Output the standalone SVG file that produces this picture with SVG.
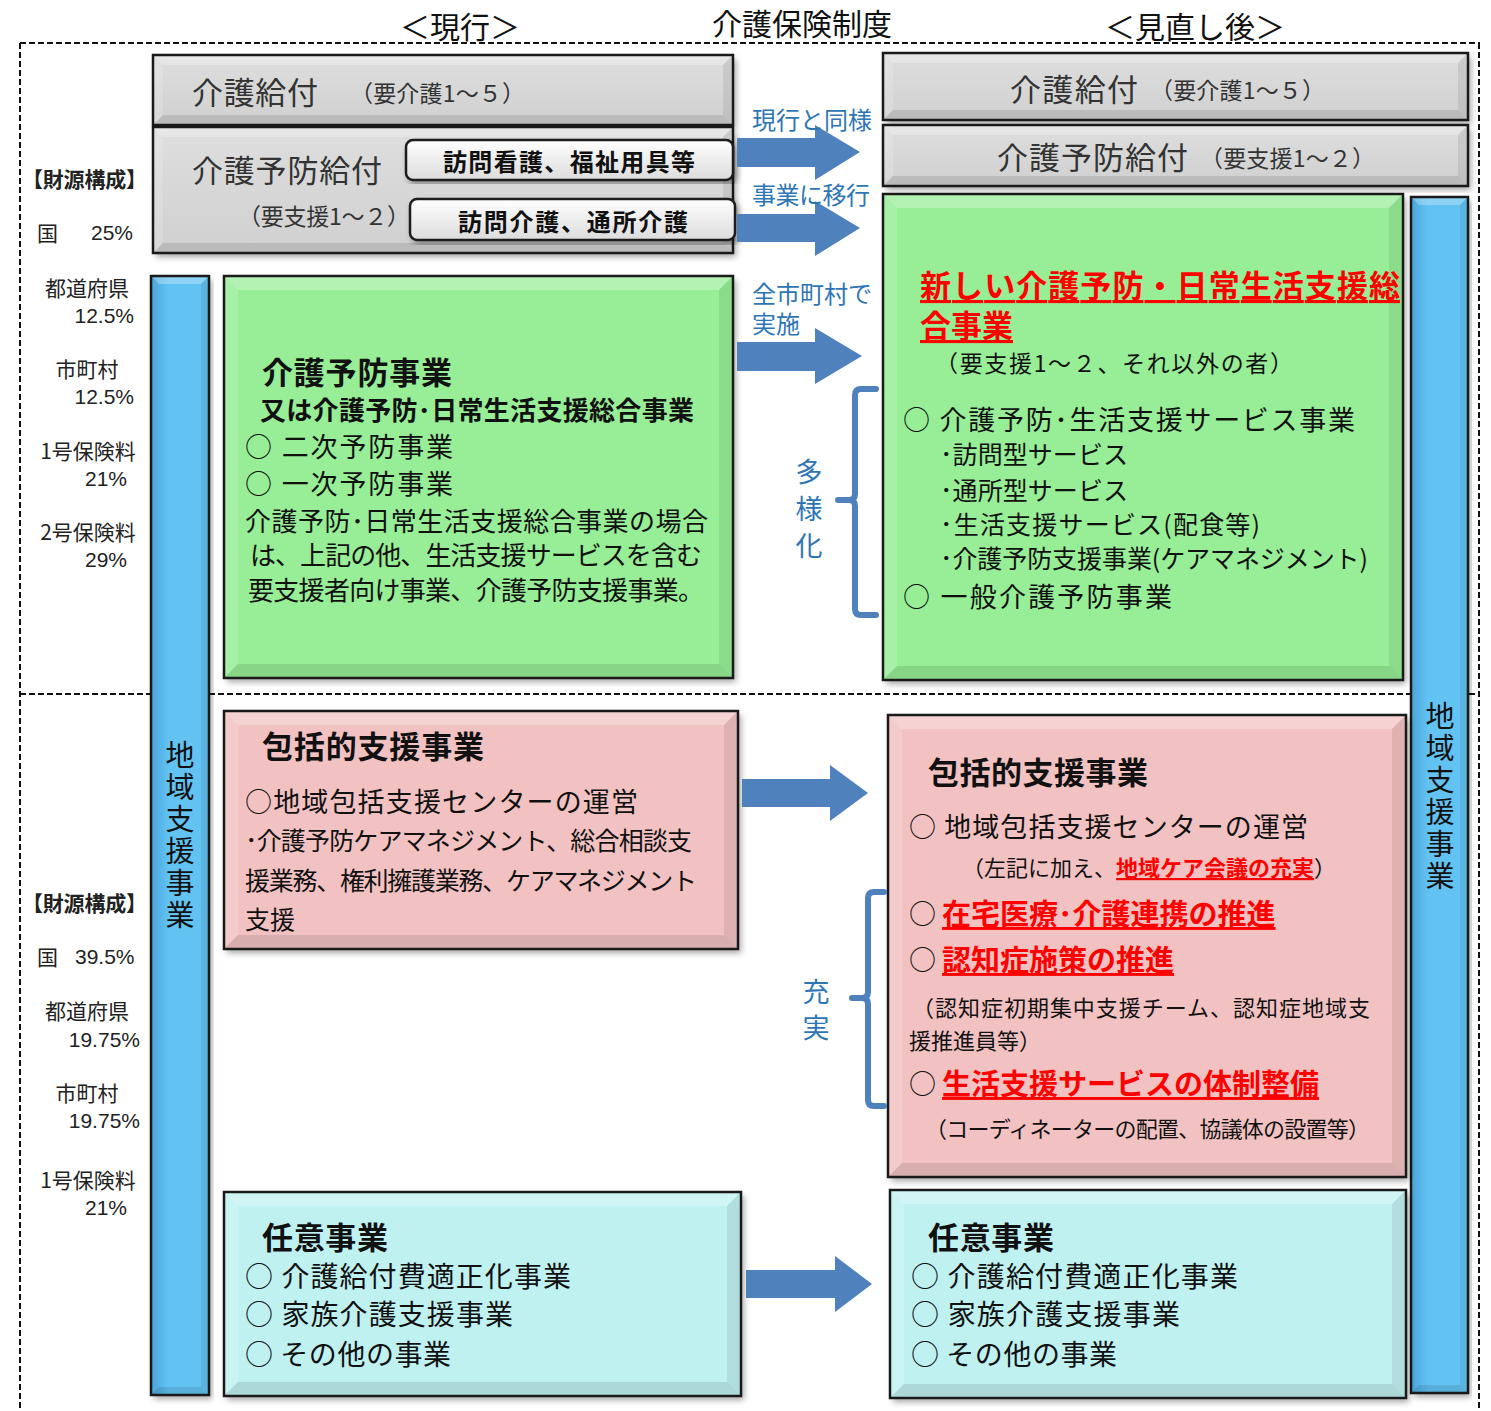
<svg xmlns="http://www.w3.org/2000/svg" width="1491" height="1411" viewBox="0 0 1491 1411">
<defs>
<filter id="sh" x="-5%" y="-5%" width="112%" height="115%"><feDropShadow dx="3" dy="4" stdDeviation="3" flood-color="#000" flood-opacity="0.35"/></filter>
<linearGradient id="gGray" x1="0" y1="0" x2="0" y2="1"><stop offset="0" stop-color="#dedede"/><stop offset="1" stop-color="#d0d0d0"/></linearGradient>
<linearGradient id="gSub" x1="0" y1="0" x2="0" y2="1"><stop offset="0" stop-color="#ffffff"/><stop offset="1" stop-color="#dcdcdc"/></linearGradient>
<linearGradient id="gBar" x1="0" y1="0" x2="1" y2="0"><stop offset="0" stop-color="#4aa3da"/><stop offset="0.3" stop-color="#62c3f3"/><stop offset="1" stop-color="#62c3f3"/></linearGradient>
</defs>
<style>
text{font-family:"Noto Sans CJK JP","Noto Sans CJK SC",sans-serif;fill:#111;dominant-baseline:central}
.dash{stroke:#111;stroke-width:2;stroke-dasharray:6 3;fill:none}
.out{fill:none;stroke:#1a1a1a;stroke-width:2.5}
.gray{fill:url(#gGray)}
.green{fill:#97ee97}
.pink{fill:#f2c2c2}
.cyan{fill:#c0f1f1}
.bar{fill:url(#gBar)}
.bt{fill:#fff;fill-opacity:0.28}
.bl{fill:#fff;fill-opacity:0.16}
.bb{fill:#000;fill-opacity:0.10}
.br{fill:#000;fill-opacity:0.08}
.gt{font-size:31px;fill:#333}
.gs{font-size:23px;fill:#333}
.h{font-size:31px;font-weight:700}
.b27{font-size:27px}
.b25{font-size:25px}
.b22{font-size:22px}
.red{fill:#ff0000;font-weight:700;text-decoration:underline}
.lbl{font-size:21px;fill:#222}
.num{font-family:"Liberation Sans",Arial,sans-serif;font-size:21px;fill:#222}
.blue{font-size:24px;fill:#2e75b6}
.vt{font-size:29px;fill:#111;writing-mode:vertical-rl;letter-spacing:3px}
.vb{font-size:27px;fill:#2e75b6;writing-mode:vertical-rl}
.arrow{fill:#4f81bd}
.brace{fill:none;stroke:#4f81bd;stroke-width:6;stroke-linecap:round;stroke-linejoin:round}
</style>

<g id="frame">
<path class="dash" d="M20,43 H1480 M20,43 V1411 M1479,43 V1411 M20,694 H1480"/>
</g>

<g id="titles">
<text x="802" y="22" font-size="30" text-anchor="middle">介護保険制度</text>
<text x="460" y="25" font-size="30" text-anchor="middle">＜現行＞</text>
<text x="1195" y="25" font-size="30" text-anchor="middle">＜見直し後＞</text>
</g>

<g id="funding">
<text class="lbl" x="22" y="178" font-weight="700" textLength="125">【財源構成】</text>
<text class="lbl" x="37" y="232">国</text>
<text class="num" x="91" y="232">25%</text>
<text class="lbl" x="87" y="287" text-anchor="middle">都道府県</text>
<text class="num" x="134" y="315" text-anchor="end">12.5%</text>
<text class="lbl" x="87" y="368" text-anchor="middle">市町村</text>
<text class="num" x="134" y="396" text-anchor="end">12.5%</text>
<text class="lbl" x="88" y="450" text-anchor="middle">1号保険料</text>
<text class="num" x="127" y="478" text-anchor="end">21%</text>
<text class="lbl" x="88" y="531" text-anchor="middle">2号保険料</text>
<text class="num" x="127" y="559" text-anchor="end">29%</text>
<text class="lbl" x="22" y="902" font-weight="700" textLength="125">【財源構成】</text>
<text class="lbl" x="37" y="956">国</text>
<text class="num" x="75" y="956">39.5%</text>
<text class="lbl" x="87" y="1010" text-anchor="middle">都道府県</text>
<text class="num" x="140" y="1039" text-anchor="end">19.75%</text>
<text class="lbl" x="87" y="1092" text-anchor="middle">市町村</text>
<text class="num" x="140" y="1120" text-anchor="end">19.75%</text>
<text class="lbl" x="88" y="1179" text-anchor="middle">1号保険料</text>
<text class="num" x="127" y="1207" text-anchor="end">21%</text>
</g>

<g id="bar-left">
<rect class="bar" x="151" y="276" width="58" height="1119" filter="url(#sh)"/>
<polygon class="bt" points="151,276 209,276 201,284 159,284"/>
<polygon class="br" points="209,276 209,1395 201,1387 201,284"/>
<polygon class="bb" points="151,1395 159,1387 201,1387 209,1395"/>
<rect class="out" x="151" y="276" width="58" height="1119"/>
<text class="vt" x="180" y="740">地域支援事業</text>
</g>

<g id="bar-right">
<rect class="bar" x="1411" y="197" width="57" height="1196" filter="url(#sh)"/>
<polygon class="bt" points="1411,197 1468,197 1460,205 1419,205"/>
<polygon class="br" points="1468,197 1468,1393 1460,1385 1460,205"/>
<polygon class="bb" points="1411,1393 1419,1385 1460,1385 1468,1393"/>
<rect class="out" x="1411" y="197" width="57" height="1196"/>
<text class="vt" x="1440" y="701">地域支援事業</text>
</g>

<g id="kaigo-kyufu-current">
<rect class="gray" x="153" y="55" width="580" height="70" filter="url(#sh)"/>
<polygon class="bt" points="153,55 733,55 723,65 163,65"/>
<polygon class="bl" points="153,55 163,65 163,115 153,125"/>
<polygon class="bb" points="153,125 163,115 723,115 733,125"/>
<polygon class="br" points="733,55 733,125 723,115 723,65"/>
<rect class="out" x="153" y="55" width="580" height="70"/>
<text class="gt" x="192" y="90" textLength="126">介護給付</text>
<text class="gs" x="350" y="92" textLength="175">（要介護1～５）</text>
</g>

<g id="yobo-kyufu-current">
<rect class="gray" x="153" y="127" width="580" height="126" filter="url(#sh)"/>
<polygon class="bt" points="153,127 733,127 723,137 163,137"/>
<polygon class="bl" points="153,127 163,137 163,243 153,253"/>
<polygon class="bb" points="153,253 163,243 723,243 733,253"/>
<polygon class="br" points="733,127 733,253 723,243 723,137"/>
<rect class="out" x="153" y="127" width="580" height="126"/>
<text class="gt" x="192" y="168" textLength="190">介護予防給付</text>
<text class="gs" x="238" y="215" textLength="172">（要支援1～２）</text>
</g>

<g id="houmon-kango">
<rect x="406" y="140" width="327" height="40" rx="7" fill="url(#gSub)" stroke="#1a1a1a" stroke-width="2.5" filter="url(#sh)"/>
<text x="569" y="160" font-size="24" font-weight="700" text-anchor="middle" textLength="252">訪問看護、福祉用具等</text>
</g>

<g id="houmon-kaigo">
<rect x="410" y="199" width="325" height="41" rx="7" fill="url(#gSub)" stroke="#1a1a1a" stroke-width="2.5" filter="url(#sh)"/>
<text x="573" y="220" font-size="24" font-weight="700" text-anchor="middle" textLength="230">訪問介護、通所介護</text>
</g>

<g id="kaigo-kyufu-new">
<rect class="gray" x="883" y="53" width="585" height="67" filter="url(#sh)"/>
<polygon class="bt" points="883,53 1468,53 1458,63 893,63"/>
<polygon class="bl" points="883,53 893,63 893,110 883,120"/>
<polygon class="bb" points="883,120 893,110 1458,110 1468,120"/>
<polygon class="br" points="1468,53 1468,120 1458,110 1458,63"/>
<rect class="out" x="883" y="53" width="585" height="67"/>
<text class="gt" x="1010" y="87" textLength="128">介護給付</text>
<text class="gs" x="1150" y="89" textLength="175">（要介護1～５）</text>
</g>

<g id="yobo-kyufu-new">
<rect class="gray" x="883" y="125" width="585" height="61" filter="url(#sh)"/>
<polygon class="bt" points="883,125 1468,125 1458,135 893,135"/>
<polygon class="bl" points="883,125 893,135 893,176 883,186"/>
<polygon class="bb" points="883,186 893,176 1458,176 1468,186"/>
<polygon class="br" points="1468,125 1468,186 1458,176 1458,135"/>
<rect class="out" x="883" y="125" width="585" height="61"/>
<text class="gt" x="997" y="155" textLength="191">介護予防給付</text>
<text class="gs" x="1200" y="157" textLength="175">（要支援1～２）</text>
</g>

<g id="yobo-jigyo-current">
<rect class="green" x="224" y="276" width="509" height="402" filter="url(#sh)"/>
<polygon class="bt" points="224,276 733,276 719,290 238,290"/>
<polygon class="bl" points="224,276 238,290 238,664 224,678"/>
<polygon class="bb" points="224,678 238,664 719,664 733,678"/>
<polygon class="br" points="733,276 733,678 719,664 719,290"/>
<rect class="out" x="224" y="276" width="509" height="402"/>
<text class="h" x="262" y="370" textLength="190">介護予防事業</text>
<text x="260" y="408" font-size="26" font-weight="700" textLength="434">又は介護予防･日常生活支援総合事業</text>
<text class="b27" x="245" y="445" textLength="208">○ 二次予防事業</text>
<text class="b27" x="245" y="482" textLength="208">○ 一次予防事業</text>
<text x="245" y="519" font-size="26" textLength="463">介護予防･日常生活支援総合事業の場合</text>
<text x="250" y="553" font-size="26" textLength="452">は、上記の他、生活支援サービスを含む</text>
<text x="248" y="588" font-size="26" textLength="456">要支援者向け事業、介護予防支援事業。</text>
</g>

<g id="sogo-jigyo-new">
<rect class="green" x="883" y="194" width="520" height="486" filter="url(#sh)"/>
<polygon class="bt" points="883,194 1403,194 1389,208 897,208"/>
<polygon class="bl" points="883,194 897,208 897,666 883,680"/>
<polygon class="bb" points="883,680 897,666 1389,666 1403,680"/>
<polygon class="br" points="1403,194 1403,680 1389,666 1389,208"/>
<rect class="out" x="883" y="194" width="520" height="486"/>
<text class="red" font-size="31"><tspan x="920" y="283" textLength="480">新しい介護予防・日常生活支援総</tspan><tspan x="920" y="323">合事業</tspan></text>
<text x="935" y="362" font-size="23" fill="#333" textLength="358">（要支援1～２、それ以外の者）</text>
<text class="b27" x="903" y="418" textLength="452">○ 介護予防･生活支援サービス事業</text>
<text class="b25" x="940" y="453" textLength="188">･訪問型サービス</text>
<text class="b25" x="940" y="489" textLength="188">･通所型サービス</text>
<text class="b25" x="940" y="523" textLength="320">･生活支援サービス(配食等)</text>
<text class="b25" x="940" y="557" textLength="428">･介護予防支援事業(ケアマネジメント)</text>
<text class="b27" x="903" y="595" textLength="269">○ 一般介護予防事業</text>
</g>

<g id="hokatsu-current">
<rect class="pink" x="224" y="711" width="514" height="238" filter="url(#sh)"/>
<polygon class="bt" points="224,711 738,711 724,725 238,725"/>
<polygon class="bl" points="224,711 238,725 238,935 224,949"/>
<polygon class="bb" points="224,949 238,935 724,935 738,949"/>
<polygon class="br" points="738,711 738,949 724,935 724,725"/>
<rect class="out" x="224" y="711" width="514" height="238"/>
<text class="h" x="262" y="744" textLength="222">包括的支援事業</text>
<text class="b27" x="245" y="800" textLength="393">○地域包括支援センターの運営</text>
<text class="b25" x="245" y="839" textLength="447">･介護予防ケアマネジメント、総合相談支</text>
<text class="b25" x="245" y="879" textLength="452">援業務、権利擁護業務、ケアマネジメント</text>
<text class="b25" x="245" y="918" textLength="50">支援</text>
</g>

<g id="hokatsu-new">
<rect class="pink" x="888" y="715" width="518" height="462" filter="url(#sh)"/>
<polygon class="bt" points="888,715 1406,715 1392,729 902,729"/>
<polygon class="bl" points="888,715 902,729 902,1163 888,1177"/>
<polygon class="bb" points="888,1177 902,1163 1392,1163 1406,1177"/>
<polygon class="br" points="1406,715 1406,1177 1392,1163 1392,729"/>
<rect class="out" x="888" y="715" width="518" height="462"/>
<text class="h" x="928" y="770" textLength="220">包括的支援事業</text>
<text class="b27" x="909" y="825" textLength="399">○ 地域包括支援センターの運営</text>
<text class="b22" x="962" y="866">（左記に加え、<tspan class="red">地域ケア会議の充実</tspan>）</text>
<text class="b27" x="909" y="912">○ <tspan class="red" font-size="29">在宅医療･介護連携の推進</tspan></text>
<text class="b27" x="909" y="958">○ <tspan class="red" font-size="29">認知症施策の推進</tspan></text>
<text class="b22"><tspan x="912" y="1006" textLength="458">（認知症初期集中支援チーム、認知症地域支</tspan><tspan x="909" y="1039">援推進員等）</tspan></text>
<text class="b27" x="909" y="1082">○ <tspan class="red" font-size="29">生活支援サービスの体制整備</tspan></text>
<text class="b22" x="925" y="1127" textLength="445">（コーディネーターの配置、協議体の設置等）</text>
</g>

<g id="nini-current">
<rect class="cyan" x="224" y="1192" width="517" height="204" filter="url(#sh)"/>
<polygon class="bt" points="224,1192 741,1192 727,1206 238,1206"/>
<polygon class="bl" points="224,1192 238,1206 238,1382 224,1396"/>
<polygon class="bb" points="224,1396 238,1382 727,1382 741,1396"/>
<polygon class="br" points="741,1192 741,1396 727,1382 727,1206"/>
<rect class="out" x="224" y="1192" width="517" height="204"/>
<text class="h" x="262" y="1235" textLength="126">任意事業</text>
<text x="245" y="1275" font-size="28" textLength="326">○ 介護給付費適正化事業</text>
<text x="245" y="1313" font-size="28" textLength="268">○ 家族介護支援事業</text>
<text x="245" y="1353" font-size="28" textLength="206">○ その他の事業</text>
</g>

<g id="nini-new">
<rect class="cyan" x="890" y="1190" width="516" height="208" filter="url(#sh)"/>
<polygon class="bt" points="890,1190 1406,1190 1392,1204 904,1204"/>
<polygon class="bl" points="890,1190 904,1204 904,1384 890,1398"/>
<polygon class="bb" points="890,1398 904,1384 1392,1384 1406,1398"/>
<polygon class="br" points="1406,1190 1406,1398 1392,1384 1392,1204"/>
<rect class="out" x="890" y="1190" width="516" height="208"/>
<text class="h" x="928" y="1235" textLength="126">任意事業</text>
<text x="911" y="1275" font-size="28" textLength="327">○ 介護給付費適正化事業</text>
<text x="911" y="1313" font-size="28" textLength="269">○ 家族介護支援事業</text>
<text x="911" y="1353" font-size="28" textLength="206">○ その他の事業</text>
</g>

<g id="connectors">
<polygon class="arrow" points="737,138 815,138 815,125 860,152 815,180 815,167 737,167"/>
<polygon class="arrow" points="737,214 815,214 815,201 860,228 815,256 815,242 737,242"/>
<polygon class="arrow" points="737,342 815,342 815,328 862,356 815,384 815,371 737,371"/>
<polygon class="arrow" points="742,779 830,779 830,765 868,793 830,821 830,807 742,807"/>
<polygon class="arrow" points="746,1270 835,1270 835,1256 872,1284 835,1312 835,1298 746,1298"/>
<path class="brace" d="M876,389 H861 Q855,389 855,395 V494 Q855,500 849,500 H838 M849,500 Q855,500 855,506 V609 Q855,615 861,615 H876"/>
<path class="brace" d="M884,892 H874 Q868,892 868,898 V992 Q868,998 862,998 H852 M862,998 Q868,998 868,1004 V1100 Q868,1106 874,1106 H884"/>
<text class="blue" x="752" y="118" textLength="120">現行と同様</text>
<text class="blue" x="752" y="193" textLength="118">事業に移行</text>
<text class="blue"><tspan x="752" y="292" textLength="120">全市町村で</tspan><tspan x="752" y="322">実施</tspan></text>
<text class="vb" x="809" y="458" letter-spacing="10">多様化</text>
<text class="vb" x="816" y="978" letter-spacing="9">充実</text>
</g>
</svg>
